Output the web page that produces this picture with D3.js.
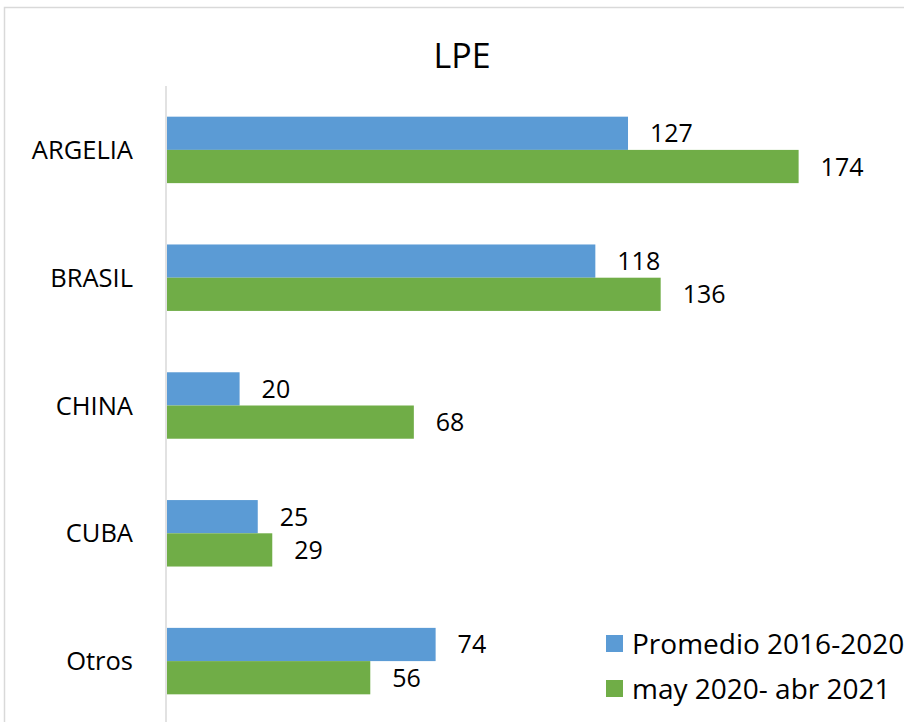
<!DOCTYPE html>
<html>
<head>
<meta charset="utf-8">
<script src="https://cdn.jsdelivr.net/npm/d3@7"></script>
<style>
  body { margin: 0; background: #fff; }
  svg { display: block; font-family: "Open Sans", "Noto Sans", sans-serif; }
</style>
</head>
<body>
<svg id="chart" width="904" height="722"></svg>
<script>
var categories = ["ARGELIA", "BRASIL", "CHINA", "CUBA", "Otros"];
var seriesNames = ["Promedio 2016-2020", "may 2020- abr 2021"];
var promedio = [127, 118, 20, 25, 74];
var mayAbr = [174, 136, 68, 29, 56];
var colors = ["#5B9BD5", "#70AD47"];

var svg = d3.select("#chart");

// chart frame
svg.append("rect")
  .attr("x", 4.5).attr("y", 7.5)
  .attr("width", 920).attr("height", 740)
  .attr("fill", "none")
  .attr("stroke", "#d9d9d9")
  .attr("stroke-width", 1.5);

svg.append("text")
  .attr("x", 462).attr("y", 68)
  .attr("text-anchor", "middle")
  .attr("font-size", 34)
  .attr("fill", "#000")
  .text("LPE");

var x = d3.scaleLinear().domain([0, 200]).range([167, 893]);

var y = d3.scaleBand()
  .domain(categories)
  .range([86, 725])
  .paddingInner(0.48)
  .paddingOuter(0.24);

var ySub = d3.scaleBand()
  .domain([0, 1])
  .range([0, y.bandwidth()]);

var rows = categories.map(function(c, i) {
  return { cat: c, vals: [promedio[i], mayAbr[i]] };
});

var groups = svg.selectAll(".grp")
  .data(rows)
  .enter().append("g")
  .attr("class", "grp")
  .attr("transform", function(d) { return "translate(0," + y(d.cat) + ")"; });

groups.selectAll("rect")
  .data(function(d) { return d.vals; })
  .enter().append("rect")
  .attr("x", x(0))
  .attr("y", function(d, i) { return ySub(i); })
  .attr("width", function(d) { return x(d) - x(0); })
  .attr("height", ySub.bandwidth())
  .attr("fill", function(d, i) { return colors[i]; });

groups.selectAll(".val")
  .data(function(d) { return d.vals; })
  .enter().append("text")
  .attr("class", "val")
  .attr("x", function(d) { return x(d) + 22; })
  .attr("y", function(d, i) { return ySub(i) + ySub.bandwidth() / 2; })
  .attr("dy", "0.36em")
  .attr("font-size", 25)
  .attr("fill", "#000")
  .text(function(d) { return d; });

// category axis
var yAxis = d3.axisLeft(y).tickSize(0).tickPadding(33);
var gy = svg.append("g")
  .attr("transform", "translate(166,0)")
  .call(yAxis);
gy.select(".domain").remove();
gy.selectAll("text")
  .attr("font-size", 25.5)
  .attr("font-family", "\"Open Sans\", sans-serif")
  .attr("fill", "#000")
  .attr("dy", "0.36em");

svg.append("line")
  .attr("x1", 166).attr("x2", 166)
  .attr("y1", 86).attr("y2", 722)
  .attr("stroke", "#d9d9d9")
  .attr("stroke-width", 1.5);

// legend
var legend = svg.selectAll(".leg")
  .data(seriesNames)
  .enter().append("g")
  .attr("class", "leg")
  .attr("transform", function(d, i) { return "translate(606," + (635 + i * 45) + ")"; });

legend.append("rect")
  .attr("width", 17).attr("height", 17)
  .attr("fill", function(d, i) { return colors[i]; });

legend.append("text")
  .attr("x", 26).attr("y", 8.5)
  .attr("dy", "0.36em")
  .attr("font-size", 28)
  .attr("fill", "#000")
  .text(function(d) { return d; });
</script>
</body>
</html>
